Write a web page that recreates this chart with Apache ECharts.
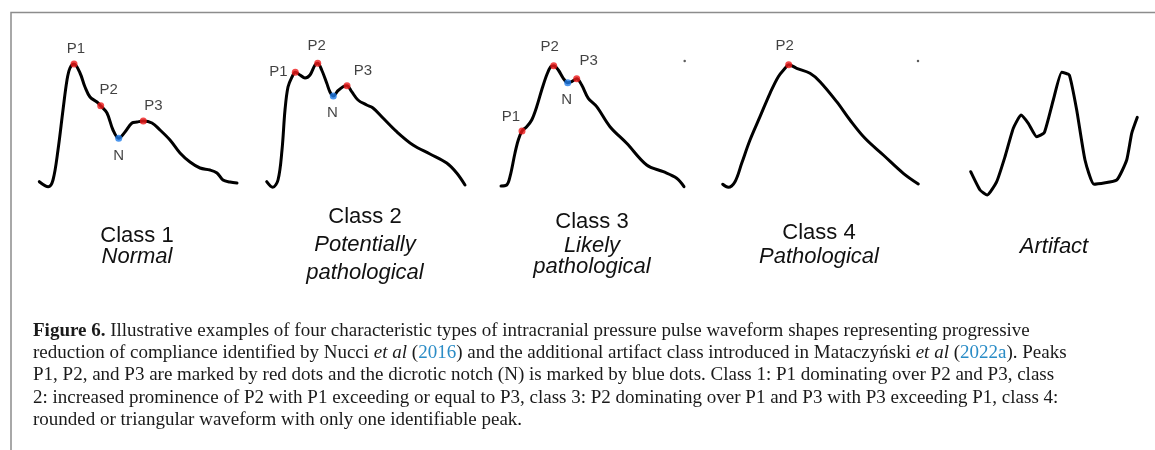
<!DOCTYPE html>
<html>
<head>
<meta charset="utf-8">
<title>ICP pulse waveform classes</title>
<script src="https://cdn.jsdelivr.net/npm/echarts@6/dist/echarts.min.js"></script>
<style>
  html, body { margin: 0; padding: 0; background: #fff; }
  #chart { width: 1155px; height: 450px; }
</style>
</head>
<body>
<div id="chart"></div>
<script>
// waveform samples, [time, pressure] in arbitrary units
var class1Wave = [
  [9.3, 18.3], [18.3, 13.3], [23, 20], [28, 50], [33, 90], [37, 120], [40, 132], [44, 136],
  [50, 127], [55, 113], [60, 103], [67, 98], [70.7, 94.3], [77, 87], [83, 70], [88.7, 61.7],
  [95, 68], [102, 77], [107, 78], [113.3, 79], [122, 77], [130, 70], [140, 60], [150, 47],
  [160, 38], [170, 32], [180, 30], [187, 27], [193, 20], [200, 18], [207, 17]
]
var class2Wave = [
  [9.7, 18.3], [15.7, 12.7], [21, 20], [25, 50], [28, 90], [31, 113], [35, 123], [38.3, 127.7],
  [43, 125], [48, 122], [53, 125], [58, 135], [60.7, 136.7], [64.7, 130], [69.7, 117], [73, 108],
  [76.3, 104], [81, 109.3], [86, 113.3], [90, 114.3], [94.7, 108.3], [101, 100], [109.7, 95],
  [116, 92], [126, 82], [139.7, 68.3], [156, 55], [173, 46], [189.7, 37], [199.7, 27], [208, 15]
]
var class3Wave = [
  [9, 14], [14.7, 15], [18, 23.3], [23, 47], [26.3, 60], [30, 69], [34.7, 73.3], [39.7, 80],
  [44.7, 93.3], [49.7, 110], [54.7, 125], [58.7, 133.3], [61.7, 134.3], [66.3, 130], [71.3, 121.7],
  [75.7, 117.3], [79.7, 118.3], [84.7, 121.3], [89.7, 115], [96.3, 101.7], [104.7, 93.3],
  [118, 73.3], [134.7, 56.7], [154.7, 35], [171.3, 28.3], [184.7, 21.7], [192, 13.3]
]
var class4Wave = [
  [9.7, 15.7], [15.3, 12.7], [22, 18.3], [28.7, 36.7], [37, 60], [47, 83.3], [57, 106.7],
  [65.3, 123.3], [72, 131.7], [75.7, 135.3], [83.7, 131.7], [97, 126.7], [107, 118.3],
  [123.7, 98.3], [137, 80], [152, 61.7], [170.3, 45], [190.3, 26.7], [205.3, 16]
]
var artifactWave = [
  [25.7, 28.3], [35, 10], [42.3, 5], [51.7, 18.3], [60, 43.3], [68.3, 71.7], [76, 85],
  [83.3, 76.7], [91.7, 63.3], [99.3, 67.3], [108.3, 100], [116.7, 127.7], [124.3, 125],
  [131.7, 90], [140, 40], [149, 15.7], [171.7, 20], [181.7, 40], [186.7, 66.7], [192.3, 82.7]
]

// marked points: peaks P1..P3 and dicrotic notch N
var class1Marks = [[44, 136, 'P1'], [70.7, 94.3, 'P2'], [113.3, 79, 'P3'], [88.7, 61.7, 'N']]
var class2Marks = [[38.3, 127.7, 'P1'], [60.7, 136.7, 'P2'], [90, 114.3, 'P3'], [76.3, 104, 'N']]
var class3Marks = [[30, 69, 'P1'], [61.7, 134.3, 'P2'], [84.7, 121.3, 'P3'], [75.7, 117.3, 'N']]
var class4Marks = [[75.7, 135.3, 'P2']]
var artifactMarks = []

// two stray specks printed in the figure
var class3Specks = [[192.7, 139]]
var class4Specks = [[205, 139]]

var classNames = ['Class 1', 'Class 2', 'Class 3', 'Class 4', '']
var classDescs = [['Normal'], ['Potentially', 'pathological'], ['Likely', 'pathological'], ['Pathological'], ['Artifact']]

var captionLines = [
  '{b|Figure 6.} Illustrative examples of four characteristic types of intracranial pressure pulse waveform shapes representing progressive',
  'reduction of compliance identified by Nucci {i|et al} ({c|2016}) and the additional artifact class introduced in Mataczyński {i|et al} ({c|2022a}). Peaks',
  'P1, P2, and P3 are marked by red dots and the dicrotic notch (N) is marked by blue dots. Class 1: P1 dominating over P2 and P3, class',
  '2: increased prominence of P2 with P1 exceeding or equal to P3, class 3: P2 dominating over P1 and P3 with P3 exceeding P1, class 4:',
  'rounded or triangular waveform with only one identifiable peak.'
]

var waves = [class1Wave, class2Wave, class3Wave, class4Wave, artifactWave]
var marks = [class1Marks, class2Marks, class3Marks, class4Marks, artifactMarks]
var specks = [[], [], class3Specks, class4Specks, []]

// layout
var panelLeft = [30, 257, 492, 713, 945]
var smoothness = [0.35, 0.35, 0.35, 0.35, 0.15]
var labelOffsets = {
  0: { P1: [2, -15], P2: [8, -16], P3: [10, -15], N: [0, 18] },
  1: { P1: [-17, 0], P2: [-1, -17], P3: [16, -15], N: [-1, 17] },
  2: { P1: [-11, -14], P2: [-4, -19], P3: [12, -18], N: [-1, 17] },
  3: { P2: [-4, -19] }
}
var titleX = [137, 365, 592, 819, 1054]
var titleY = [[236, 257], [217, 245, 273], [222, 246, 267], [233, 257], [247]]

var RED = '#ef1a1a'
var BLUE = '#1f7ce8'
var SANS = '"Liberation Sans", Arial, sans-serif'
var SERIF = '"Liberation Serif", "Times New Roman", serif'

var chart = echarts.init(document.getElementById('chart'))

var grid = [], xAxis = [], yAxis = [], series = [], graphic = []

waves.forEach(function (wave, i) {
  grid.push({ left: panelLeft[i], top: 40, width: 210, height: 160 })
  xAxis.push({ type: 'value', gridIndex: i, min: 0, max: 210, show: false })
  yAxis.push({ type: 'value', gridIndex: i, min: 0, max: 160, show: false })

  series.push({
    type: 'line',
    xAxisIndex: i,
    yAxisIndex: i,
    data: wave,
    smooth: smoothness[i],
    symbol: 'none',
    silent: true,
    lineStyle: { color: '#000', width: 3, cap: 'round', join: 'round' },
    z: 2
  })

  series.push({
    type: 'scatter',
    xAxisIndex: i,
    yAxisIndex: i,
    symbolSize: 7,
    silent: true,
    z: 3,
    data: marks[i].map(function (m) {
      return {
        value: [m[0], m[1]],
        name: m[2],
        itemStyle: { color: m[2] === 'N' ? BLUE : RED },
        label: { offset: labelOffsets[i][m[2]] }
      }
    }),
    label: {
      show: true,
      position: 'inside',
      formatter: '{b}',
      fontFamily: SANS,
      fontSize: 15,
      color: '#111'
    }
  })

  if (specks[i].length) {
    series.push({
      type: 'scatter',
      xAxisIndex: i,
      yAxisIndex: i,
      symbolSize: 2.5,
      silent: true,
      itemStyle: { color: '#333' },
      data: specks[i]
    })
  }

  var lines = classNames[i] ? [classNames[i]].concat(classDescs[i]) : classDescs[i]
  lines.forEach(function (txt, k) {
    var italic = !(classNames[i] && k === 0)
    graphic.push({
      type: 'text',
      x: titleX[i],
      y: titleY[i][k],
      silent: true,
      style: {
        text: txt,
        fontFamily: SANS,
        fontSize: 22,
        fontStyle: italic ? 'italic' : 'normal',
        fill: '#111',
        align: 'center',
        verticalAlign: 'middle'
      }
    })
  })
})

// frame around the figure
graphic.push({
  type: 'polyline',
  silent: true,
  shape: { points: [[11, 450], [11, 12.5], [1155, 12.5]] },
  style: { stroke: '#8c8c8c', lineWidth: 1.5, fill: null }
})

// caption
var capStyle = { fontFamily: SERIF, fontSize: 19, lineHeight: 22.2, fill: '#1a1a1a' }
graphic.push({
  type: 'text',
  x: 33,
  y: 320,
  silent: true,
  style: {
    text: captionLines.join('\n'),
    fontFamily: SERIF,
    fontSize: 19,
    lineHeight: 22.2,
    fill: '#1a1a1a',
    verticalAlign: 'top',
    rich: {
      b: Object.assign({}, capStyle, { fontWeight: 'bold' }),
      i: Object.assign({}, capStyle, { fontStyle: 'italic' }),
      c: Object.assign({}, capStyle, { fill: '#2a8cc6' })
    }
  }
})

chart.setOption({
  backgroundColor: '#fff',
  animation: false,
  grid: grid,
  xAxis: xAxis,
  yAxis: yAxis,
  series: series,
  graphic: graphic
})
</script>
</body>
</html>
